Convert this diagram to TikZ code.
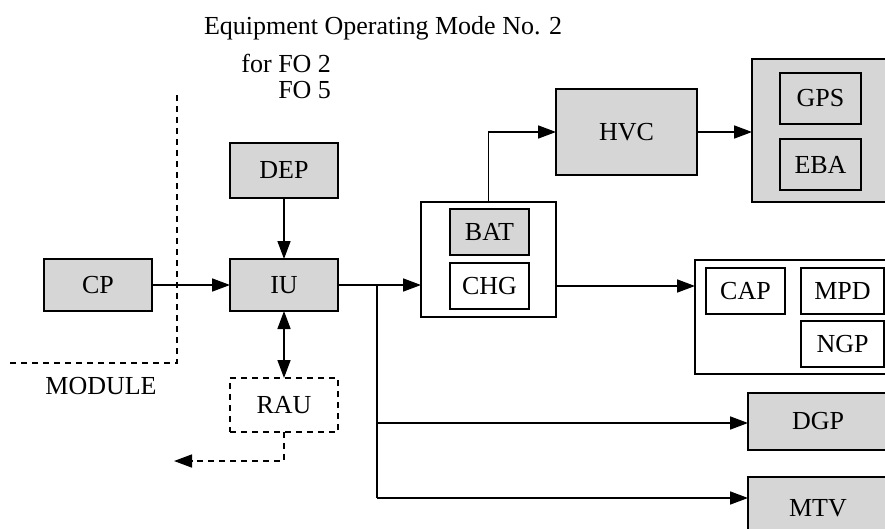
\documentclass[tikz,border=0pt]{standalone}
\usepackage{fontspec}
\setmainfont{Liberation Serif}
\usetikzlibrary{arrows.meta}
\begin{document}
\begin{tikzpicture}[x=1pt,y=-1pt,
  line width=1.6pt,
  font=\fontsize{26}{30}\selectfont,
  every node/.style={inner sep=0pt, outer sep=0pt},
  blk/.style={draw, rectangle, line width=1.9pt},
  shd/.style={blk, fill=black!16},
  wht/.style={blk, fill=white},
  arr/.style={-{Triangle[length=18pt,width=13pt]}},
  darr/.style={{Triangle[length=18pt,width=13pt]}-{Triangle[length=18pt,width=13pt]}},
  dsh/.style={dash pattern=on 6pt off 5pt}
]
\useasboundingbox (0,0) rectangle (885,529);
\clip (0,0) rectangle (885,529);
\fill[white] (0,0) rectangle (885,529);

% texts
\node[anchor=west] (title) at (204,28) {Equipment Operating Mode No. 2};
\node[anchor=east] (for1) at (331,63) {for FO 2};
\node[anchor=east] (for2) at (331,90) {FO 5};
\node (module) at (101,386) {MODULE};

% module boundary
\coordinate (m1) at (177,95);
\coordinate (m2) at (177,363);
\coordinate (m3) at (10,363);
\draw[dsh] (m1) -- (m2) -- (m3);

% left blocks
\node[shd, minimum width=108pt, minimum height=52pt] (CP) at (98,285) {CP};
\node[shd, minimum width=108pt, minimum height=52pt] (IU) at (284,285) {IU};
\node[shd, minimum width=108pt, minimum height=55pt] (DEP) at (284,170.5) {DEP};
\node[blk, dsh, minimum width=108pt, minimum height=54pt] (RAU) at (284,405) {RAU};

% battery group
\node[wht, minimum width=135pt, minimum height=115pt] (bg) at (488.5,259.5) {};
\node[shd, minimum width=79pt, minimum height=46pt] (BAT) at (489.5,232) {BAT};
\node[wht, minimum width=79pt, minimum height=46pt] (CHG) at (489.5,286) {CHG};

% HVC and GPS/EBA group
\node[shd, minimum width=141pt, minimum height=86pt] (HVC) at (626.5,132) {HVC};
\node[shd, minimum width=148pt, minimum height=143pt] (ge) at (826,130.5) {};
\node[shd, minimum width=81pt, minimum height=51pt] (GPS) at (820.5,98.5) {GPS};
\node[shd, minimum width=81pt, minimum height=51pt] (EBA) at (820.5,164.5) {EBA};

% CAP group
\node[wht, minimum width=205pt, minimum height=114pt] (cg) at (797.5,317) {};
\node[wht, minimum width=79pt, minimum height=46pt] (CAP) at (745.5,291) {CAP};
\node[wht, minimum width=83pt, minimum height=46pt] (MPD) at (842.5,291) {MPD};
\node[wht, minimum width=83pt, minimum height=46pt] (NGP) at (842.5,344) {NGP};

% DGP, MTV
\node[shd, minimum width=140pt, minimum height=57pt] (DGP) at (818,421.5) {DGP};
\node[shd, minimum width=140pt, minimum height=63pt] (MTV) at (818,508.5) {MTV};

% connectors
\draw[arr] (CP.east) -- (IU.west);
\draw[arr] (DEP.south) -- (IU.north);
\draw[darr] (IU.south) -- (RAU.north);
\coordinate (rauend) at (174,461);
\draw[dsh, arr] (RAU.south) |- (rauend);
\draw[arr] (IU.east) -- (IU.east -| bg.west);
\coordinate (br) at (377,285);
\draw (br) -- (377,498);
\draw[arr] (377,423) -- (377,423 -| DGP.west);
\draw[arr] (377,498) -- (377,498 -| MTV.west);
\draw[arr] (bg.north) |- (HVC.west);
\draw[arr] (HVC.east) -- (HVC.east -| ge.west);
\draw[arr] (CHG.east -| bg.east) -- (CHG.east -| cg.west);
\end{tikzpicture}
\end{document}
